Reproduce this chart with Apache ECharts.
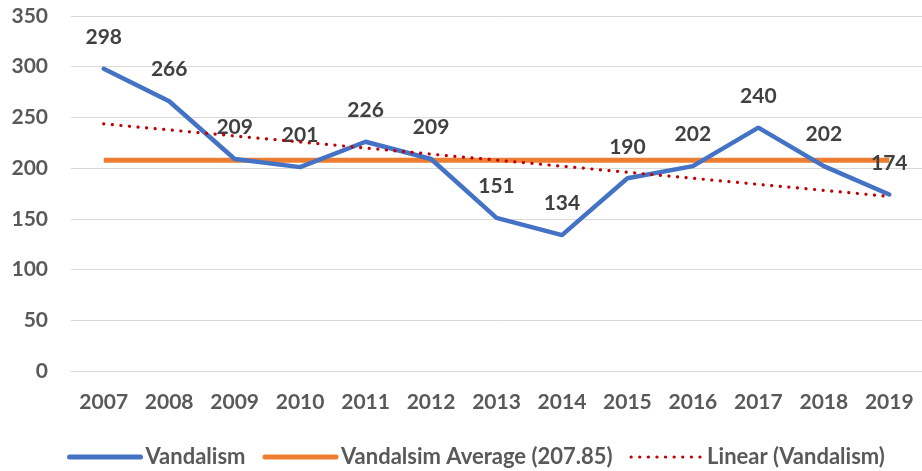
<!DOCTYPE html>
<html>
<head>
<meta charset="utf-8">
<script src="https://cdn.jsdelivr.net/npm/echarts@6/dist/echarts.min.js"></script>
<style>
    html, body { margin: 0; padding: 0; background: #fff; }
    #chart { width: 922px; height: 471px; }
</style>
</head>
<body>
<div id="chart"></div>
<script>
const years = ['2007', '2008', '2009', '2010', '2011', '2012', '2013', '2014', '2015', '2016', '2017', '2018', '2019'];
const vandalism = [298, 266, 209, 201, 226, 209, 151, 134, 190, 202, 240, 202, 174];
const average = [207.85, 207.85, 207.85, 207.85, 207.85, 207.85, 207.85, 207.85, 207.85, 207.85, 207.85, 207.85, 207.85];
const trend = [243.6, 237.7, 231.7, 225.8, 219.8, 213.8, 207.9, 201.9, 195.9, 190.0, 184.0, 178.1, 172.1];

const font = 'Lato, "Open Sans", sans-serif';
const gray = '#595959';

let myChart = echarts.init(document.getElementById('chart'));
let option = {
    animation: false,
    grid: {
        left: 71,
        right: -3,
        top: 16,
        bottom: 100
    },
    legend: {
        left: 62,
        top: 441,
        itemWidth: 71,
        itemHeight: 12,
        itemGap: 17,
        itemStyle: { opacity: 0 },
        textStyle: {
            color: gray,
            fontFamily: font,
            fontWeight: 'bold',
            fontSize: 22
        },
        data: [
            { name: 'Vandalism', lineStyle: { width: 5, cap: 'round' } },
            { name: 'Vandalsim Average (207.85)', lineStyle: { width: 5, cap: 'round' } },
            { name: 'Linear (Vandalism)', lineStyle: { width: 3.2, cap: 'round' } }
        ]
    },
    xAxis: {
        type: 'category',
        data: years,
        axisLine: { lineStyle: { color: '#d9d9d9', width: 1 } },
        axisTick: { show: false },
        axisLabel: {
            color: gray,
            fontFamily: font,
            fontWeight: 'bold',
            fontSize: 21,
            margin: 21
        }
    },
    yAxis: {
        type: 'value',
        min: 0,
        max: 350,
        interval: 50,
        axisLine: { show: false },
        axisTick: { show: false },
        splitLine: { lineStyle: { color: '#d9d9d9', width: 1 } },
        axisLabel: {
            color: gray,
            fontFamily: font,
            fontWeight: 'bold',
            fontSize: 21,
            margin: 23
        }
    },
    series: [
        {
            name: 'Vandalism',
            type: 'line',
            data: vandalism,
            symbol: 'circle',
            symbolSize: 0,
            showSymbol: true,
            z: 3,
            lineStyle: { color: '#4472C4', width: 4.5, cap: 'round' },
            itemStyle: { color: '#4472C4' },
            label: {
                show: true,
                position: 'top',
                distance: 21,
                color: '#404040',
                fontFamily: font,
                fontWeight: 'bold',
                fontSize: 21
            }
        },
        {
            name: 'Vandalsim Average (207.85)',
            type: 'line',
            data: average,
            symbol: 'none',
            z: 2,
            lineStyle: { color: '#ED7D31', width: 5 },
            itemStyle: { color: '#ED7D31' }
        },
        {
            name: 'Linear (Vandalism)',
            type: 'line',
            data: trend,
            symbol: 'none',
            z: 4,
            lineStyle: { color: '#C00000', width: 3.2, type: [0.1, 8.5], cap: 'round' },
            itemStyle: { color: '#C00000' }
        }
    ]
};
myChart.setOption(option, true);
</script>
</body>
</html>
